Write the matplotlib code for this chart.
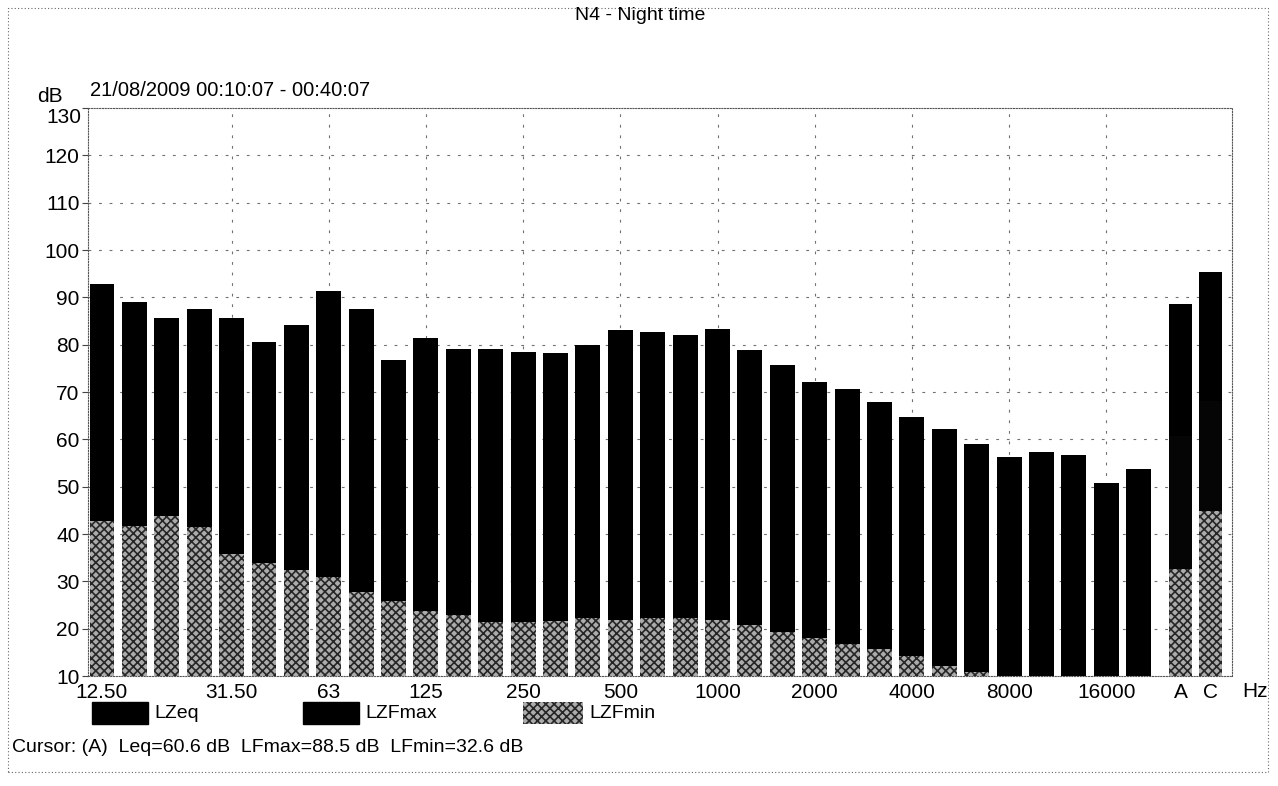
import numpy as np
import matplotlib.pyplot as plt
from matplotlib.patches import Rectangle

plt.rcParams['font.family'] = ['Liberation Sans', 'DejaVu Sans']
plt.rcParams['hatch.linewidth'] = 1.2

# Bandas de tercio de octava (Hz)
bandas = ['12.50', '16', '20', '25', '31.50', '40', '50', '63', '80', '100', '125',
          '160', '200', '250', '315', '400', '500', '630', '800', '1000', '1250',
          '1600', '2000', '2500', '3150', '4000', '5000', '6300', '8000', '10000',
          '12500', '16000', '20000']
etiquetas_x = ['12.50', '31.50', '63', '125', '250', '500', '1000', '2000',
               '4000', '8000', '16000']

# Niveles por banda (dB)
lzfmax = [92.9, 89.1, 85.7, 87.6, 85.7, 80.5, 84.2, 91.3, 87.5, 76.8, 81.5,
          79.1, 79.1, 78.4, 78.2, 80.0, 83.0, 82.7, 82.0, 83.4, 78.8,
          75.6, 72.1, 70.7, 67.8, 64.8, 62.2, 59.1, 56.2, 57.4, 56.6, 50.8, 53.8]
lzfmin = [42.8, 41.7, 43.9, 41.4, 35.7, 33.9, 32.3, 31.0, 27.8, 25.9, 23.8,
          22.9, 21.5, 21.5, 21.7, 22.2, 21.8, 22.3, 22.3, 21.9, 20.8,
          19.4, 18.0, 16.8, 15.7, 14.2, 12.1, 10.9, 9.5, 9.0, 9.0, 8.5, 9.0]

# Globales ponderados A y C
globales = ['A', 'C']
lzfmax_ac = [88.5, 95.4]
lzeq_ac = [60.6, 68.0]
lzfmin_ac = [32.6, 44.9]

BASE = 10
NEGRO = '#050505'
GRIS = '#ababab'
TRAMA = '#262626'

fig = plt.figure(figsize=(12.78, 7.86), dpi=100)
W, H = 1278, 786
ax = fig.add_axes([88 / W, 1 - 676 / H, (1232 - 88) / W, (676 - 108) / H])

x = np.arange(len(bandas))
x_ac = np.array([33.3, 34.23])

# barras: maximo detras, equivalente, minimo delante
ax.bar(x, np.array(lzfmax) - BASE, bottom=BASE, width=0.77, color='black', zorder=3)
ax.bar(x, np.clip(np.array(lzfmin) - BASE, 0, None), bottom=BASE, width=0.77,
       facecolor=GRIS, edgecolor=TRAMA, hatch='xxxx', linewidth=0, zorder=4)

ax.bar(x_ac, np.array(lzfmax_ac) - BASE, bottom=BASE, width=0.71, color='black', zorder=3)
ax.bar(x_ac, np.array(lzeq_ac) - BASE, bottom=BASE, width=0.71, color=NEGRO, zorder=3.5)
ax.bar(x_ac, np.array(lzfmin_ac) - BASE, bottom=BASE, width=0.71,
       facecolor=GRIS, edgecolor=TRAMA, hatch='xxxx', linewidth=0, zorder=4)

ax.set_xlim(-0.432, 34.88)
ax.set_ylim(10, 130)

# rejilla punteada
estilo = dict(color='#707070', lw=0.8, ls=(0, (2.5, 7)), zorder=1)
for v in range(20, 130, 10):
    ax.axhline(v, **estilo)
for lab in etiquetas_x[1:]:
    ax.axvline(bandas.index(lab), **estilo)

for s in ax.spines.values():
    s.set_linestyle((0, (1, 1.5)))
    s.set_color('#555555')
    s.set_linewidth(0.8)

# eje Y: la etiqueta 130 va algo mas abajo, bajo el texto "dB"
yt = list(range(10, 131, 10))
ax.set_yticks(yt)
ax.set_yticklabels([str(v) for v in yt[:-1]] + [''])
ax.tick_params(axis='y', labelsize=15, length=4, width=0.8, color='#444', pad=2)
ax.text(-0.006, 130, '130', transform=ax.get_yaxis_transform(), fontsize=15,
        ha='right', va='top')

pos_x = [bandas.index(e) for e in etiquetas_x] + list(x_ac)
ax.set_xticks(pos_x)
ax.set_xticklabels(etiquetas_x + globales)
ax.tick_params(axis='x', labelsize=15, length=0, pad=5)

ax.text(1.0 + 23 / (1232 - 88), -0.01, 'Hz', transform=ax.transAxes,
        fontsize=15, ha='center', va='top')

# textos de cabecera
fig.text(640 / W, 1 - 16 / H, 'N4 - Night time', ha='center', va='center', fontsize=14)
fig.text(37 / W, 1 - 96 / H, 'dB', ha='left', va='center', fontsize=15)
fig.text(90 / W, 1 - 91 / H, '21/08/2009 00:10:07 - 00:40:07', ha='left',
         va='center', fontsize=14.5)

# leyenda dibujada a mano
leyenda = [('LZeq', 92, 148, dict(facecolor='black', edgecolor='black')),
           ('LZFmax', 303, 359, dict(facecolor='black', edgecolor='black')),
           ('LZFmin', 523, 583, dict(facecolor=GRIS, edgecolor=TRAMA, hatch='xxxx', lw=0))]
for nombre, x0, x1, kw in leyenda:
    fig.add_artist(Rectangle((x0 / W, 1 - 724 / H), (x1 - x0) / W, 22 / H,
                             transform=fig.transFigure, **kw))
    fig.text((x1 + 6) / W, 1 - 713 / H, nombre, ha='left', va='center', fontsize=14)

fig.text(12 / W, 1 - 748 / H,
         'Cursor: (A)  Leq=60.6 dB  LFmax=88.5 dB  LFmin=32.6 dB',
         ha='left', va='center', fontsize=14)

# marco exterior
fig.add_artist(Rectangle((8 / W, 1 - 772 / H), (1268 - 8) / W, (772 - 8) / H,
                         transform=fig.transFigure, fill=False, ec='#666666',
                         lw=0.8, ls=(0, (1, 2))))

fig.savefig('out.png', dpi=100)
